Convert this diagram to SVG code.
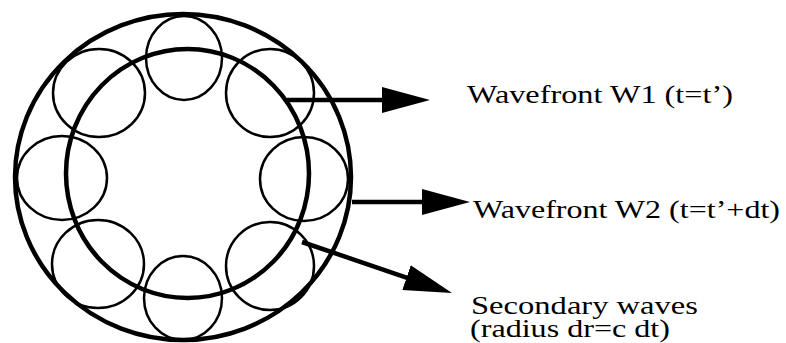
<svg xmlns="http://www.w3.org/2000/svg" width="786" height="343" viewBox="0 0 786 343">
  <style>
    .bg { fill: #ffffff; }
    .wave { fill: none; stroke: #000; stroke-width: 4.5; }
    .sec { fill: none; stroke: #000; stroke-width: 2.5; }
    .conn { fill: none; stroke: #000; stroke-width: 4.5; marker-end: url(#arrow); }
    .label { font-family: 'Liberation Serif', 'Times New Roman', 'DejaVu Serif', serif; font-size: 26px; fill: #000; }
  </style>
  <defs>
    <marker id="arrow" markerUnits="userSpaceOnUse" markerWidth="50" markerHeight="30" refX="10" refY="14" orient="auto" viewBox="0 0 50 30">
      <path d="M0,1 L48,14 L0,27 Z" fill="#000"/>
    </marker>
  </defs>
  <rect class="bg" x="0" y="0" width="786" height="343"/>

  <g id="secondary-waves">
    <ellipse class="sec" cx="184" cy="58" rx="38" ry="42"/>
    <ellipse class="sec" cx="270" cy="93" rx="44" ry="44"/>
    <ellipse class="sec" cx="304" cy="179" rx="44" ry="42"/>
    <ellipse class="sec" cx="270" cy="266" rx="44" ry="44"/>
    <ellipse class="sec" cx="183" cy="298" rx="39" ry="42"/>
    <ellipse class="sec" cx="98" cy="264" rx="46" ry="44"/>
    <ellipse class="sec" cx="62" cy="178" rx="45" ry="42"/>
    <ellipse class="sec" cx="99" cy="93" rx="46" ry="44"/>
  </g>

  <g id="wavefront-w1">
    <ellipse class="wave" cx="187.5" cy="173.5" rx="121.5" ry="124.5"/>
  </g>

  <g id="wavefront-w2">
    <ellipse class="wave" cx="183" cy="177" rx="168" ry="163"/>
  </g>

  <g id="connectors">
    <line class="conn" x1="287" y1="100" x2="392" y2="100"/>
    <line class="conn" x1="352" y1="202" x2="432" y2="202"/>
    <line class="conn" x1="302" y1="242" x2="416" y2="280.8"/>
  </g>

  <g id="label-w1">
    <text class="label" font-family="'Liberation Serif', 'DejaVu Serif', serif" x="467" y="103" textLength="266" lengthAdjust="spacingAndGlyphs">Wavefront W1 (t=t’)</text>
  </g>
  <g id="label-w2">
    <text class="label" font-family="'Liberation Serif', 'DejaVu Serif', serif" x="473" y="218" textLength="307" lengthAdjust="spacingAndGlyphs">Wavefront W2 (t=t’+dt)</text>
  </g>
  <g id="label-secondary">
    <text class="label" font-family="'Liberation Serif', 'DejaVu Serif', serif" x="471" y="314" textLength="227" lengthAdjust="spacingAndGlyphs">Secondary waves</text>
    <text class="label" font-family="'Liberation Serif', 'DejaVu Serif', serif" x="470" y="337" textLength="200" lengthAdjust="spacingAndGlyphs">(radius dr=c dt)</text>
  </g>
</svg>
